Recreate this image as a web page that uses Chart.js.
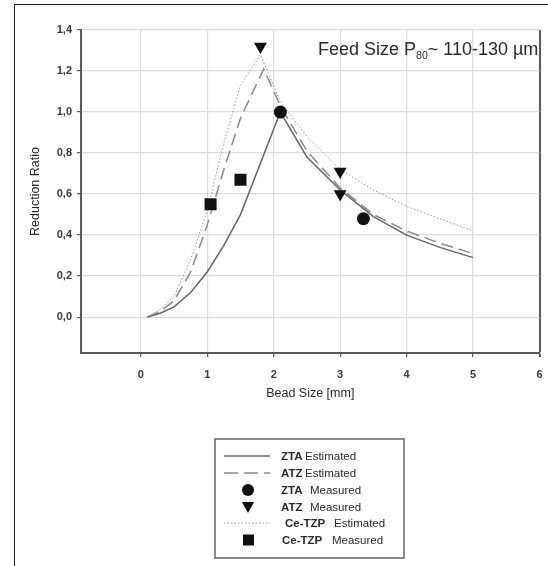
<!DOCTYPE html>
<html>
<head>
<meta charset="utf-8">
<script src="https://cdn.jsdelivr.net/npm/chart.js@4"></script>
<style>
  html, body { margin: 0; padding: 0; background: #fff; }
  #wrap { position: relative; width: 548px; height: 566px; overflow: hidden; }
  #frame { position: absolute; left: 14px; top: 4px; width: 600px; height: 600px; border: 1.5px solid #222; box-sizing: border-box; }
  #chart { position: absolute; left: 0; top: 0; }
</style>
</head>
<body>
<div id="wrap">
  <div id="frame"></div>
  <canvas id="chart" width="548" height="566"></canvas>
</div>
<script>
// estimated curves
const ztaEstX = [0.1, 0.3, 0.5, 0.75, 1.0, 1.25, 1.5, 2.1, 2.5, 3.0, 3.5, 4.0, 4.5, 5.0];
const ztaEstY = [0.0, 0.02, 0.05, 0.12, 0.22, 0.35, 0.50, 1.0, 0.78, 0.62, 0.49, 0.40, 0.34, 0.29];
const atzEstX = [0.1, 0.3, 0.5, 0.75, 1.0, 1.25, 1.5, 1.85, 2.1, 2.5, 3.0, 3.5, 4.0, 4.5, 5.0];
const atzEstY = [0.0, 0.03, 0.08, 0.22, 0.45, 0.72, 0.97, 1.21, 1.03, 0.81, 0.63, 0.50, 0.42, 0.36, 0.31];
const ceEstX = [0.1, 0.3, 0.5, 0.75, 1.0, 1.25, 1.5, 1.8, 2.1, 2.5, 3.0, 3.5, 4.0, 4.5, 5.0];
const ceEstY = [0.0, 0.04, 0.10, 0.28, 0.52, 0.85, 1.13, 1.28, 1.05, 0.88, 0.72, 0.62, 0.54, 0.48, 0.42];
// measured points
const ztaMeasX = [2.1, 3.35];
const ztaMeasY = [1.0, 0.48];
const atzMeasX = [1.8, 3.0, 3.0];
const atzMeasY = [1.32, 0.71, 0.60];
const ceMeasX = [1.05, 1.5];
const ceMeasY = [0.55, 0.67];

const legendRows = [
  ['ZTA', 'Estimated'], ['ATZ', 'Estimated'], ['ZTA', 'Measured'],
  ['ATZ', 'Measured'], ['Ce-TZP', 'Estimated'], ['Ce-TZP', 'Measured']
];

const pts = (xs, ys) => xs.map((x, i) => ({ x: x, y: ys[i] }));
const FONT = '"Liberation Sans", Arial, sans-serif';

const extras = {
  id: 'extras',
  afterDraw(chart) {
    const c = chart.ctx;
    c.save();
    // feed size note
    c.fillStyle = '#2a2a2a';
    c.textBaseline = 'alphabetic';
    c.font = '18px ' + FONT;
    let x = 318;
    c.fillText('Feed Size P', x, 55);
    x += c.measureText('Feed Size P').width;
    c.font = '10.5px ' + FONT;
    c.fillText('80', x, 59);
    x += c.measureText('80').width;
    c.font = '18px ' + FONT;
    c.fillText('~ 110-130 \u00b5m', x, 55);

    // legend box
    c.strokeStyle = '#666';
    c.lineWidth = 1.5;
    c.strokeRect(215, 439, 189, 119);
    const rowsY = [456, 473, 490, 507, 523, 540];
    const textX = [[281, 305], [281, 305], [281, 310], [281, 310], [285, 334], [282, 332]];
    rowsY.forEach((y, i) => {
      c.save();
      if (i === 0 || i === 1 || i === 4) {
        c.beginPath();
        if (i === 0) { c.strokeStyle = '#6a6a6a'; c.lineWidth = 1.5; c.setLineDash([]); }
        if (i === 1) { c.strokeStyle = '#8a8a8a'; c.lineWidth = 1.5; c.setLineDash([14, 6]); }
        if (i === 4) { c.strokeStyle = '#9a9a9a'; c.lineWidth = 1; c.setLineDash([1.5, 2]); }
        c.moveTo(224, y); c.lineTo(270, y); c.stroke();
      } else {
        c.fillStyle = '#111';
        c.beginPath();
        if (i === 2) c.arc(248, y, 6, 0, Math.PI * 2);
        if (i === 3) { c.moveTo(242, y - 5); c.lineTo(254, y - 5); c.lineTo(248, y + 6); c.closePath(); }
        if (i === 5) c.rect(243, y - 5.5, 11, 11);
        c.fill();
      }
      c.restore();
      c.fillStyle = '#2a2a2a';
      c.textBaseline = 'middle';
      c.font = 'bold 11.5px ' + FONT;
      c.fillText(legendRows[i][0], textX[i][0], y + 1);
      c.font = '11.5px ' + FONT;
      c.fillText(legendRows[i][1], textX[i][1], y + 1);
    });
    c.restore();
  }
};

new Chart(document.getElementById('chart'), {
  type: 'scatter',
  data: {
    datasets: [
      { label: 'ZTA Estimated', data: pts(ztaEstX, ztaEstY), showLine: true, borderColor: '#666', borderWidth: 1.5, pointRadius: 0, order: 2 },
      { label: 'ATZ Estimated', data: pts(atzEstX, atzEstY), showLine: true, borderColor: '#8a8a8a', borderWidth: 1.5, borderDash: [12, 6], pointRadius: 0, order: 2 },
      { label: 'ZTA Measured', data: pts(ztaMeasX, ztaMeasY), pointStyle: 'circle', pointRadius: 6.5, backgroundColor: '#111', borderColor: '#111', borderWidth: 0, order: 0 },
      { label: 'ATZ Measured', data: pts(atzMeasX, atzMeasY), pointStyle: 'triangle', rotation: 180, pointRadius: 7.5, backgroundColor: '#111', borderColor: '#111', borderWidth: 0, order: 0 },
      { label: 'Ce-TZP Estimated', data: pts(ceEstX, ceEstY), showLine: true, borderColor: '#999', borderWidth: 1, borderDash: [1.5, 2], pointRadius: 0, order: 2 },
      { label: 'Ce-TZP Measured', data: pts(ceMeasX, ceMeasY), pointStyle: 'rect', pointRadius: 8.5, backgroundColor: '#111', borderColor: '#111', borderWidth: 0, order: 0 }
    ]
  },
  options: {
    responsive: false,
    animation: false,
    events: [],
    layout: { padding: { top: 30, right: -1, bottom: 165, left: 0 } },
    plugins: { legend: { display: false }, tooltip: { enabled: false } },
    scales: {
      x: {
        type: 'linear', min: -0.9, max: 6,
        afterFit: (s) => { s.height = 48; s.paddingRight = 0; },
        afterBuildTicks: (s) => { s.ticks = s.ticks.filter(t => t.value >= -1e-9); },
        ticks: { stepSize: 1, padding: 11, color: '#3a3a3a', font: { family: FONT, size: 11, weight: 'bold' }, callback: (v) => String(Math.round(v)) },
        grid: {
          color: (ctx) => (ctx.tick && ctx.tick.value === 6 ? '#5a5a5a' : '#dcdcdc'),
          lineWidth: (ctx) => (ctx.tick && ctx.tick.value === 6 ? 2 : 1.2),
          tickColor: '#5a5a5a', tickLength: 4
        },
        border: { color: '#5a5a5a', width: 2 },
        title: { display: true, text: 'Bead Size [mm]', color: '#2a2a2a', font: { family: FONT, size: 12.5 }, padding: 0 }
      },
      y: {
        type: 'linear', min: -0.175, max: 1.4,
        afterFit: (s) => { s.width = 81; },
        afterBuildTicks: (s) => { s.ticks = s.ticks.filter(t => t.value >= -1e-9); },
        ticks: { stepSize: 0.2, padding: 5, color: '#3a3a3a', font: { family: FONT, size: 11, weight: 'bold' }, callback: (v) => v.toFixed(1).replace('.', ',') },
        grid: { color: '#dcdcdc', lineWidth: 1.2, tickColor: '#5a5a5a', tickLength: 4 },
        border: { color: '#5a5a5a', width: 2 },
        title: { display: true, text: 'Reduction Ratio', color: '#2a2a2a', font: { family: FONT, size: 12.5 }, padding: { top: 28, bottom: 0 } }
      }
    }
  },
  plugins: [extras]
});
</script>
</body>
</html>
